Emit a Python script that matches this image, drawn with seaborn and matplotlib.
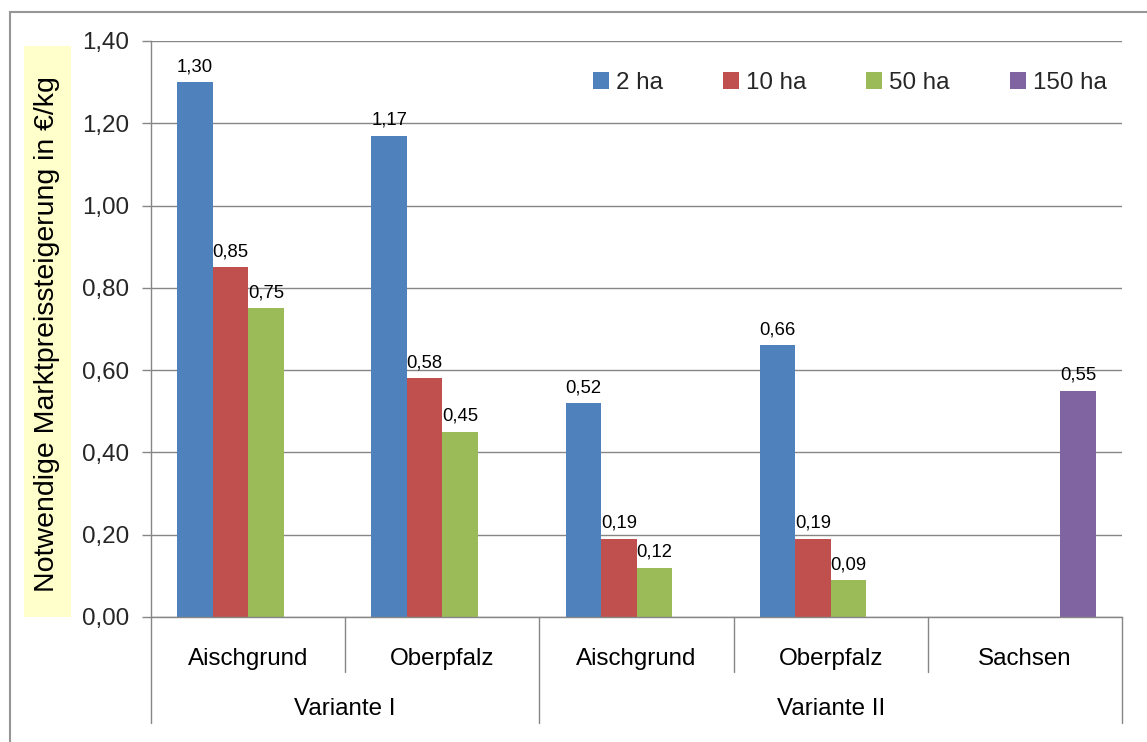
import matplotlib
matplotlib.use("Agg")
import matplotlib.pyplot as plt
from matplotlib.patches import Rectangle
from matplotlib.lines import Line2D
import matplotlib.transforms as mtransforms
import numpy as np
import pandas as pd
import seaborn as sns

# --- data -----------------------------------------------------------------
regions = ["Aischgrund", "Oberpfalz", "Aischgrund ", "Oberpfalz ", "Sachsen"]
region_labels = ["Aischgrund", "Oberpfalz", "Aischgrund", "Oberpfalz", "Sachsen"]
variants = ["Variante I", "Variante II"]
variant_spans = [(0, 2), (2, 5)]          # category index ranges per variant
sizes = ["2 ha", "10 ha", "50 ha", "150 ha"]
vals_2ha = [1.30, 1.17, 0.52, 0.66, np.nan]
vals_10ha = [0.85, 0.58, 0.19, 0.19, np.nan]
vals_50ha = [0.75, 0.45, 0.12, 0.09, np.nan]
vals_150ha = [np.nan, np.nan, np.nan, np.nan, 0.55]
y_ticks = [0.0, 0.2, 0.4, 0.6, 0.8, 1.0, 1.2, 1.4]
colors = ["#4F81BD", "#C0504D", "#9BBB59", "#8064A2"]
ylabel = "Notwendige Marktpreissteigerung in €/kg"

rows = []
for size, series in zip(sizes, [vals_2ha, vals_10ha, vals_50ha, vals_150ha]):
    for reg, v in zip(regions, series):
        rows.append({"region": reg, "size": size, "value": v})
df = pd.DataFrame(rows)

# --- figure ---------------------------------------------------------------
sns.set_theme(style="white")
plt.rcParams["font.family"] = ["Liberation Sans", "DejaVu Sans"]

FS = 17.4        # axis / legend text
FS_VAL = 13.3    # value labels
FS_TITLE = 20.5  # y-axis title

W, H = 1147, 742
fig = plt.figure(figsize=(W / 100, H / 100), dpi=100)
left, right, top, bottom = 151, 1122, 41, 617
ax = fig.add_axes([left / W, 1 - bottom / H, (right - left) / W, (bottom - top) / H])

sns.barplot(data=df.dropna(), x="region", y="value", hue="size",
            order=regions, hue_order=sizes, palette=colors,
            width=0.73, dodge=True, saturation=1, ax=ax, legend=True,
            edgecolor="none", linewidth=0)

# value labels above bars
for cont in ax.containers:
    labels = [f"{v:.2f}".replace(".", ",") for v in cont.datavalues]
    ax.bar_label(cont, labels=labels, padding=5, fontsize=FS_VAL, color="#000000")

ax.set_xlim(-0.5, len(regions) - 0.5)
ax.set_ylim(0, 1.4)
ax.set_yticks(y_ticks)
ax.set_yticklabels([f"{t:.2f}".replace(".", ",") for t in y_ticks], fontsize=FS)
ax.tick_params(axis="y", length=6.5, width=1, color="#868686", pad=9, left=True)
ax.set_xticks([])
ax.set_xlabel("")
ax.set_ylabel("")
ax.yaxis.grid(True, color="#868686", linewidth=1)
ax.set_axisbelow(True)
for s in ["top", "right"]:
    ax.spines[s].set_visible(False)
for s in ["left", "bottom"]:
    ax.spines[s].set_color("#868686")
    ax.spines[s].set_linewidth(1)

# legend
handles, labs = ax.get_legend_handles_labels()
ax.legend(handles, labs, ncol=4, frameon=False, fontsize=FS,
          loc="center left",
          bbox_to_anchor=((593 - left) / (right - left), (bottom - 83) / (bottom - top)),
          handlelength=0.66, handleheight=0.66, handletextpad=0.3,
          columnspacing=2.47, borderaxespad=0, borderpad=0)

# two-level category axis below the plot
trans = mtransforms.blended_transform_factory(ax.transData, fig.transFigure)
def fy(py):
    return 1 - py / H

line_kw = dict(color="#868686", linewidth=1, transform=trans, clip_on=False)
for i in range(len(regions) + 1):
    xb = i - 0.5
    is_group_edge = any(xb == a - 0.5 or xb == b - 0.5 for a, b in variant_spans)
    y_end = 723 if is_group_edge else 672
    fig.add_artist(Line2D([xb, xb], [fy(bottom), fy(y_end)], **line_kw))

for i, lab in enumerate(region_labels):
    fig.text(i, fy(659), lab, transform=trans, ha="center", va="center", fontsize=FS, color="#000000")
for name, (a, b) in zip(variants, variant_spans):
    fig.text((a + b - 1) / 2, fy(709), name, transform=trans, ha="center", va="center",
             fontsize=FS, color="#000000")

# y-axis title on a pale yellow panel
fig.add_artist(Rectangle((24 / W, 1 - 617 / H), 47 / W, (617 - 46) / H,
                         transform=fig.transFigure, facecolor="#FFFFCC", edgecolor="none", zorder=0))
fig.text(47 / W, 1 - 334 / H, ylabel, rotation=90, ha="center", va="center",
         fontsize=FS_TITLE, color="#000000")

# outer chart border
fig.add_artist(Rectangle((10 / W, -0.1), 1.2, 1 - 12 / H + 0.1, transform=fig.transFigure,
                         facecolor="none", edgecolor="#969696", linewidth=1.5, zorder=0))

fig.savefig("out.png", dpi=100)
